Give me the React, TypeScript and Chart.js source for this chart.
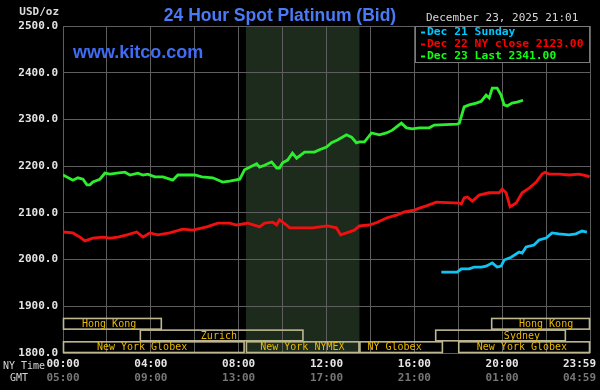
import React, { useEffect, useRef } from "react";
import { Chart, registerables } from "chart.js";

Chart.register(...registerables);

// ---------- DATA ----------
const dec23Hours = [0, 0.45, 0.68, 0.91, 1.09, 1.23, 1.36, 1.68, 1.91, 2.14, 2.45, 2.82, 3.05, 3.41, 3.64, 3.86, 4.18, 4.55, 5.0, 5.23, 5.64, 6.0, 6.32, 6.82, 7.27, 7.59, 8.05, 8.27, 8.59, 8.82, 8.95, 9.18, 9.5, 9.73, 9.86, 10.0, 10.23, 10.45, 10.64, 11.0, 11.45, 11.68, 12.0, 12.23, 12.5, 12.91, 13.14, 13.36, 13.5, 13.73, 14.05, 14.41, 14.73, 15.0, 15.41, 15.64, 15.91, 16.23, 16.68, 16.91, 17.95, 18.05, 18.27, 18.5, 18.82, 19.05, 19.27, 19.41, 19.55, 19.77, 19.95, 20.09, 20.23, 20.45, 20.68, 20.95];
const dec23Values = [2181, 2170, 2175, 2172, 2160, 2160, 2166, 2172, 2185, 2183, 2185, 2187, 2181, 2185, 2181, 2183, 2177, 2177, 2170, 2181, 2181, 2181, 2177, 2175, 2166, 2168, 2172, 2192, 2200, 2205, 2198, 2202, 2209, 2196, 2196, 2207, 2213, 2228, 2217, 2230, 2230, 2235, 2241, 2250, 2256, 2267, 2262, 2250, 2252, 2252, 2271, 2267, 2271, 2277, 2292, 2282, 2280, 2282, 2282, 2288, 2290, 2292, 2327, 2331, 2335, 2339, 2352, 2346, 2367, 2367, 2352, 2331, 2329, 2335, 2337, 2341];

const dec22Hours = [0, 0.45, 0.77, 1.0, 1.36, 1.82, 2.14, 2.5, 2.91, 3.36, 3.64, 3.95, 4.32, 4.86, 5.45, 5.91, 6.55, 7.05, 7.59, 7.91, 8.41, 8.82, 8.95, 9.18, 9.55, 9.73, 9.86, 10.18, 10.32, 10.68, 11.36, 12.05, 12.45, 12.64, 12.91, 13.27, 13.5, 13.95, 14.32, 14.73, 15.18, 15.55, 16.0, 16.23, 16.55, 17.0, 18.05, 18.14, 18.27, 18.41, 18.64, 18.95, 19.41, 19.86, 20.0, 20.18, 20.36, 20.64, 20.91, 21.23, 21.55, 21.82, 21.95, 22.14, 22.59, 23.05, 23.5, 23.86, 23.98];
const dec22Values = [2059, 2057, 2048, 2040, 2046, 2048, 2046, 2048, 2053, 2059, 2048, 2057, 2053, 2057, 2065, 2063, 2070, 2078, 2078, 2074, 2078, 2072, 2070, 2078, 2080, 2074, 2085, 2074, 2068, 2068, 2068, 2072, 2068, 2053, 2057, 2063, 2072, 2074, 2080, 2089, 2095, 2102, 2106, 2110, 2115, 2123, 2121, 2119, 2132, 2134, 2125, 2138, 2143, 2143, 2151, 2143, 2113, 2121, 2143, 2153, 2166, 2183, 2187, 2183, 2183, 2181, 2183, 2179, 2177];

const dec21Hours = [17.23, 17.95, 18.14, 18.5, 18.73, 19.05, 19.27, 19.55, 19.77, 19.95, 20.09, 20.41, 20.77, 20.91, 21.09, 21.45, 21.68, 22.0, 22.27, 22.59, 23.05, 23.36, 23.64, 23.86];
const dec21Values = [1973, 1973, 1980, 1980, 1984, 1984, 1986, 1993, 1984, 1986, 1999, 2005, 2016, 2014, 2027, 2031, 2042, 2046, 2057, 2055, 2053, 2055, 2061, 2059];

const seriesLabels = ["Dec 21 Sunday", "Dec 22 NY close 2123.00", "Dec 23 Last 2341.00"];
const seriesColors = ["#10c4f4", "#f01010", "#2cee2c"];
const legendColors = ["#00c8ff", "#ff0000", "#10ff10"];

const xTickHours = [0, 4, 8, 12, 16, 20, 24];
const xTickNY = ["00:00", "04:00", "08:00", "12:00", "16:00", "20:00", "23:59"];
const xTickGMT = ["05:00", "09:00", "13:00", "17:00", "21:00", "01:00", "04:59"];

const sessionNames = ["Hong Kong", "Zurich", "New York Globex", "New York NYMEX", "NY Globex", "Sydney", "Hong Kong", "New York Globex"];
const sessionStarts = [0, 3.5, 0, 8.33, 13.5, 16.95, 19.5, 18.0];
const sessionEnds = [4.5, 10.95, 8.27, 13.5, 17.3, 22.9, 24, 24];
const sessionLabelAt = [2.1, 7.1, 3.6, 10.9, 15.1, 20.9, 22.0, 20.9];
const sessionLevel = [2, 1, 0, 0, 0, 1, 2, 0];

const shadeStart = 8.33;
const shadeEnd = 13.5;

const titleText = "24 Hour Spot Platinum (Bid)";
const dateText = "December 23, 2025 21:01";
const siteText = "www.kitco.com";

const MONO = "'DejaVu Sans Mono', monospace";
const SANS = "'Liberation Sans', Arial, sans-serif";

export default function App() {
  const ref = useRef<HTMLCanvasElement | null>(null);

  useEffect(() => {
    document.body.style.margin = "0";
    const canvas = ref.current;
    if (!canvas) return;

    const mk = (hs: number[], vs: number[]) => hs.map((h, i) => ({ x: h, y: vs[i] }));

    const decor = {
      id: "kitcoDecor",
      beforeDraw(chart: any) {
        const { ctx, chartArea, scales } = chart;
        ctx.save();
        ctx.fillStyle = "#000";
        ctx.fillRect(0, 0, chart.width, chart.height);
        const x0 = scales.x.getPixelForValue(shadeStart);
        const x1 = scales.x.getPixelForValue(shadeEnd);
        ctx.fillStyle = "#1c2b1c";
        ctx.fillRect(x0, chartArea.top, x1 - x0, chartArea.bottom - chartArea.top);
        ctx.restore();
      },
      afterDraw(chart: any) {
        const { ctx, chartArea, scales } = chart;
        const xs = scales.x;
        const ys = scales.y;
        ctx.save();

        // sessions
        ctx.lineWidth = 1.6;
        ctx.strokeStyle = "#bdb890";
        ctx.font = `10px ${MONO}`;
        ctx.textBaseline = "middle";
        ctx.textAlign = "center";
        sessionNames.forEach((name, i) => {
          const l = xs.getPixelForValue(sessionStarts[i]);
          const r = xs.getPixelForValue(sessionEnds[i]);
          const t = ys.getPixelForValue(1800 + 25 * (sessionLevel[i] + 1));
          const b = ys.getPixelForValue(1800 + 25 * sessionLevel[i]);
          ctx.strokeRect(l + 0.5, t + 0.5, r - l - 1, b - t - 1);
          ctx.fillStyle = "#eab800";
          ctx.fillText(name, xs.getPixelForValue(sessionLabelAt[i]), (t + b) / 2 + 0.5);
        });

        // legend box
        const lw = 175;
        const lh = 37;
        const lx = chartArea.right - lw;
        const ly = chartArea.top;
        ctx.fillStyle = "#000";
        ctx.fillRect(lx, ly, lw, lh);
        ctx.strokeStyle = "#7a7a7a";
        ctx.lineWidth = 1;
        ctx.strokeRect(lx + 0.5, ly + 0.5, lw - 1, lh - 1);
        ctx.font = `bold 11.3px ${MONO}`;
        ctx.textAlign = "left";
        seriesLabels.forEach((lab, i) => {
          const cy = ly + 6.5 + i * 12;
          ctx.fillStyle = legendColors[i];
          ctx.fillRect(lx + 6, cy - 1, 4, 2);
          ctx.fillText(lab, lx + 12, cy);
        });

        // date
        ctx.fillStyle = "#d6d6d6";
        ctx.font = `11px ${MONO}`;
        ctx.fillText(dateText, 426, 18.5);

        // USD/oz
        ctx.textAlign = "right";
        ctx.font = `bold 11px ${MONO}`;
        ctx.fillStyle = "#dcdcdc";
        ctx.fillText("USD/oz", 59, 12.5);

        // title
        ctx.textAlign = "center";
        ctx.textBaseline = "alphabetic";
        ctx.fillStyle = "#4a7af5";
        ctx.font = `bold 17.5px ${SANS}`;
        ctx.fillText(titleText, 280, 21);

        // site
        ctx.textAlign = "left";
        ctx.fillStyle = "#3f6cf2";
        ctx.font = `bold 18px ${SANS}`;
        ctx.fillText(siteText, 73, 58);

        // x tick labels (two rows)
        ctx.textBaseline = "middle";
        ctx.font = `bold 11px ${MONO}`;
        xTickHours.forEach((h, i) => {
          const px = xs.getPixelForValue(h);
          const w = ctx.measureText(xTickNY[i]).width;
          let ax = px;
          let al: CanvasTextAlign = "center";
          if (px + w / 2 > 596) {
            ax = 596;
            al = "right";
          }
          ctx.textAlign = al;
          ctx.fillStyle = "#e6e6e6";
          ctx.fillText(xTickNY[i], ax, chartArea.bottom + 11);
          ctx.fillStyle = "#777777";
          ctx.fillText(xTickGMT[i], ax, chartArea.bottom + 25);
        });

        ctx.textAlign = "left";
        ctx.font = `10px ${MONO}`;
        ctx.fillStyle = "#d4d4d4";
        ctx.fillText("NY Time", 3, chartArea.bottom + 13);
        ctx.fillText("GMT", 10, chartArea.bottom + 25);

        ctx.restore();
      },
    };

    const chart = new Chart(canvas, {
      type: "line",
      data: {
        datasets: [
          { label: seriesLabels[0], data: mk(dec21Hours, dec21Values), borderColor: seriesColors[0] },
          { label: seriesLabels[1], data: mk(dec22Hours, dec22Values), borderColor: seriesColors[1] },
          { label: seriesLabels[2], data: mk(dec23Hours, dec23Values), borderColor: seriesColors[2] },
        ].map((d) => ({ ...d, borderWidth: 2.8, pointRadius: 0, tension: 0, fill: false })),
      },
      options: {
        responsive: false,
        animation: false,
        devicePixelRatio: 1,
        layout: { padding: { top: 26, right: 10, left: 0, bottom: 0 } },
        plugins: { legend: { display: false }, tooltip: { enabled: false }, title: { display: false } },
        scales: {
          x: {
            type: "linear",
            min: 0,
            max: 24,
            ticks: { stepSize: 2, display: false },
            grid: { color: "#5e5e5e", drawTicks: false, lineWidth: 1 },
            border: { display: false },
            afterFit: (s: any) => {
              s.height = 37;
            },
          },
          y: {
            min: 1800,
            max: 2500,
            ticks: {
              stepSize: 100,
              padding: 5,
              color: "#e4e4e4",
              font: { family: MONO, size: 11, weight: "bold" },
              callback: (v: any) => Number(v).toFixed(1),
            },
            grid: { color: "#5e5e5e", drawTicks: false, lineWidth: 1 },
            border: { display: false },
            afterFit: (s: any) => {
              s.width = 63;
            },
          },
        },
      },
      plugins: [decor],
    } as any);

    return () => chart.destroy();
  }, []);

  return (
    <div style={{ position: "absolute", left: 0, top: 0, width: 600, height: 390, background: "#000" }}>
      <canvas ref={ref} width={600} height={390} style={{ display: "block" }} />
    </div>
  );
}
